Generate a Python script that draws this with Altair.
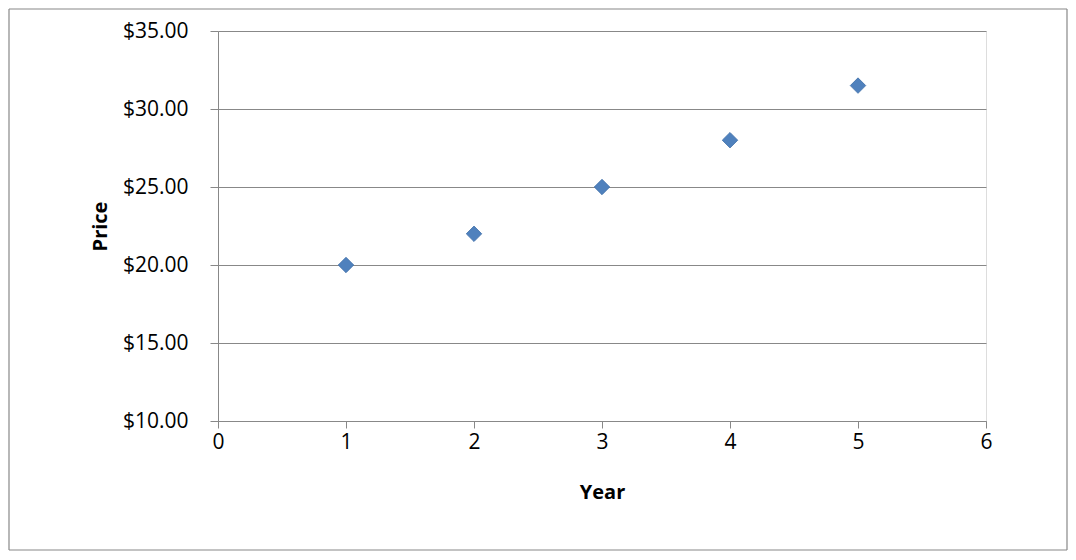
import pandas as pd
import altair as alt

years = [1, 2, 3, 4, 5]
prices = [20.0, 22.0, 25.0, 28.0, 31.5]

df = pd.DataFrame({"Year": years, "Price": prices})

font = "Open Sans"

points = (
    alt.Chart(df)
    .mark_point(shape="diamond", filled=True, size=240, color="#4F81BD", opacity=1,
                stroke="#3F6FA8", strokeWidth=0.8)
    .encode(
        x=alt.X("Year:Q", title="Year",
                scale=alt.Scale(domain=[0, 6], nice=False),
                axis=alt.Axis(values=[0, 1, 2, 3, 4, 5, 6], grid=False, tickSize=7,
                              tickColor="#888888", domainColor="#888888", labelFlush=False,
                              labelFontSize=21, labelFont=font, labelColor="black",
                              titleFontSize=20, titleFont=font, titleFontWeight="bold",
                              titleColor="black", labelPadding=3, titlePadding=30)),
        y=alt.Y("Price:Q", title="Price",
                scale=alt.Scale(domain=[10, 35], nice=False, zero=False),
                axis=alt.Axis(values=[10, 15, 20, 25, 30, 35], format="$.2f",
                              grid=True, gridColor="#888888", tickSize=8,
                              tickColor="#888888", domainColor="#888888", labelFlush=False,
                              labelFontSize=21, labelFont=font, labelColor="black",
                              titleFontSize=20, titleFont=font, titleFontWeight="bold",
                              titleColor="black", labelPadding=22, titlePadding=12)),
    )
)

one = pd.DataFrame({"a": [0]})
L, R, T, B = -209, 849, -22, 519


def edge(x, x2, y, y2):
    return (
        alt.Chart(one)
        .mark_rule(color="#888888", strokeWidth=1.2, clip=False)
        .encode(x=alt.value(x), x2=alt.value(x2), y=alt.value(y), y2=alt.value(y2))
    )


frame = [edge(L, R, T, T), edge(L, R, B, B), edge(L, L, T, B), edge(R, R, T, B)]

chart = (
    alt.layer(points, *frame)
    .properties(width=768, height=390, padding={"left": 210, "top": 23, "right": 82, "bottom": 131},
                autosize=alt.AutoSizeParams(type="none"))
    .configure_view(stroke=None)
    .configure(background="white")
)

chart.save("out.html", embed_options={"renderer": "svg", "actions": False})
